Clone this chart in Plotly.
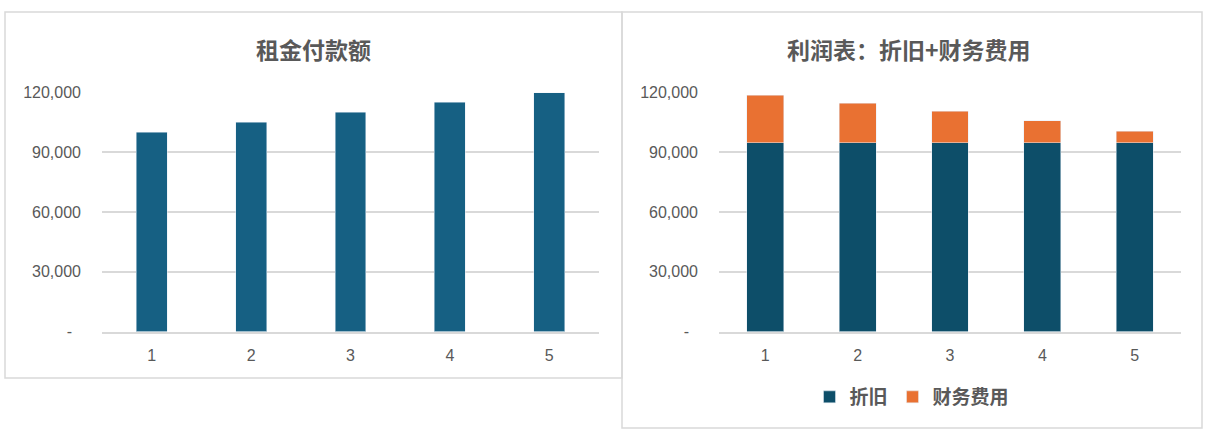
import plotly.graph_objects as go

W, H = 1209, 435

# ---- data ----
periods = [1, 2, 3, 4, 5]
rent_payment = [100000, 105000, 110000, 115000, 120000]
depreciation = [94826, 94826, 94826, 94826, 94826]
finance_cost = [23707, 19893, 15637, 10919, 5714]
ytick_vals = [0, 30000, 60000, 90000, 120000]
ytick_text = ["-\u00a0\u00a0", "30,000", "60,000", "90,000", "120,000"]
title_left = "租金付款额"
title_right = "利润表：折旧+财务费用"
legend_names = ["折旧", "财务费用"]

# ---- styles ----
C_LEFT = "#166083"
C_DEP = "#0D4E69"
C_FIN = "#E97132"
GRID = "#D9D9D9"
TXT = "#595959"
NUM_FONT = "Liberation Sans, Arial, Noto Sans CJK SC, sans-serif"
CJK_FONT = "Noto Sans CJK SC, sans-serif"

def px_x(p):
    return p / W

def px_y(p):
    return 1 - p / H

fig = go.Figure()

fig.add_trace(go.Bar(x=periods, y=rent_payment, marker_color=C_LEFT,
                     width=0.31, xaxis="x", yaxis="y", showlegend=False,
                     name="租金付款额"))
fig.add_trace(go.Bar(x=periods, y=depreciation, marker_color=C_DEP,
                     width=0.40, xaxis="x2", yaxis="y2", name=legend_names[0]))
fig.add_trace(go.Bar(x=periods, y=finance_cost, marker_color=C_FIN,
                     width=0.40, xaxis="x2", yaxis="y2", name=legend_names[1]))

ydom = [px_y(331.5), px_y(92.5)]

xcommon = dict(range=[0.5, 5.5], tickvals=periods, ticks="", showgrid=False,
               showline=True, linecolor=GRID, linewidth=1.5, zeroline=False,
               tickfont=dict(family=NUM_FONT, size=16, color=TXT),
               ticklabelstandoff=9, fixedrange=True, automargin=False)
ycommon = dict(range=[0, 120000], tickvals=ytick_vals, ticktext=ytick_text,
               ticks="", showgrid=True, gridcolor=GRID, gridwidth=1.5,
               zeroline=False, showline=False, domain=ydom,
               tickfont=dict(family=NUM_FONT, size=16, color=TXT),
               ticklabelstandoff=20, fixedrange=True, automargin=False)

fig.update_layout(
    width=W, height=H,
    margin=dict(l=0, r=0, t=0, b=0, pad=0, autoexpand=False),
    paper_bgcolor="white", plot_bgcolor="white",
    barmode="stack",
    xaxis=dict(domain=[px_x(102), px_x(599)], anchor="y", **xcommon),
    yaxis=dict(anchor="x", **ycommon),
    xaxis2=dict(domain=[px_x(719), px_x(1181)], anchor="y2", **xcommon),
    yaxis2=dict(anchor="x2", **ycommon),
    showlegend=True,
    legend=dict(orientation="h", x=px_x(912), y=px_y(397),
                xanchor="center", yanchor="middle", traceorder="normal",
                bgcolor="rgba(0,0,0,0)", itemwidth=30,
                font=dict(family=CJK_FONT, size=19, color=TXT, weight="bold")),
    shapes=[
        dict(type="rect", xref="paper", yref="paper",
             x0=px_x(5), x1=px_x(622), y0=px_y(378), y1=px_y(12),
             line=dict(color=GRID, width=1.5), layer="below"),
        dict(type="rect", xref="paper", yref="paper",
             x0=px_x(622), x1=px_x(1202), y0=px_y(428), y1=px_y(12),
             line=dict(color=GRID, width=1.5), layer="below"),
    ],
    annotations=[
        dict(text=title_left, xref="paper", yref="paper",
             x=px_x(313.5), y=px_y(49), xanchor="center", yanchor="middle",
             showarrow=False,
             font=dict(family=CJK_FONT, size=23, color=TXT, weight="bold")),
        dict(text=title_right, xref="paper", yref="paper",
             x=px_x(909), y=px_y(49), xanchor="center", yanchor="middle",
             showarrow=False,
             font=dict(family=CJK_FONT, size=23, color=TXT, weight="bold")),
    ],
)

fig.write_html(
    "out.html",
    config={"displayModeBar": False},
    post_script="document.documentElement.style.margin='0';"
                "document.body.style.margin='0';"
                "document.body.style.overflow='hidden';",
)
